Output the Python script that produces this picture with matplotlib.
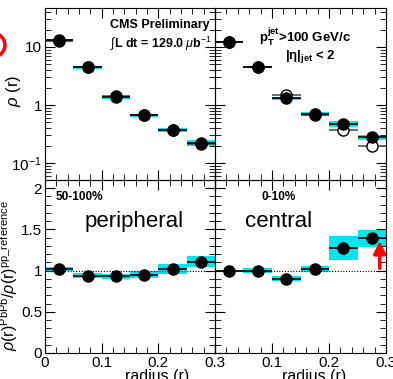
import numpy as np
import matplotlib.pyplot as plt
from matplotlib.patches import Rectangle, Ellipse

plt.rcParams["font.family"] = ["Liberation Sans", "DejaVu Sans"]
plt.rcParams["mathtext.fontset"] = "custom"
plt.rcParams["mathtext.rm"] = "Liberation Sans"
plt.rcParams["mathtext.it"] = "Liberation Sans:italic"
plt.rcParams["mathtext.bf"] = "Liberation Sans:bold"
plt.rcParams["font.size"] = 9

CYAN = "#00e5ee"

r_centers = [0.025, 0.075, 0.125, 0.175, 0.225, 0.275]
r_halfwidth = 0.025

# jet shapes rho(r)
rho_periph = [13.0, 4.5, 1.37, 0.67, 0.37, 0.22]
rho_periph_pp = [12.8, 4.6, 1.45, 0.66, 0.37, 0.21]
rho_periph_sys = [0.6, 0.25, 0.08, 0.04, 0.03, 0.025]
rho_central = [12.2, 4.5, 1.32, 0.70, 0.47, 0.28]
rho_central_pp = [12.3, 4.5, 1.49, 0.68, 0.37, 0.195]
rho_central_sys = [0.4, 0.2, 0.08, 0.05, 0.05, 0.03]

# ratios PbPb / pp
ratio_periph = [1.02, 0.94, 0.93, 0.95, 1.02, 1.11]
ratio_periph_sys = [0.02, 0.03, 0.03, 0.04, 0.06, 0.07]
ratio_central = [1.00, 1.00, 0.90, 1.02, 1.27, 1.39]
ratio_central_sys = [0.01, 0.03, 0.03, 0.04, 0.145, 0.10]

W, H = 393, 379
fig = plt.figure(figsize=(W / 100, H / 100), dpi=100)

x0, xm, x1 = 45 / W, 215 / W, 386 / W
yt, ym, yb = 1 - 8 / H, 1 - 180 / H, 1 - 353 / H
ax_tl = fig.add_axes([x0, ym, xm - x0, yt - ym])
ax_tr = fig.add_axes([xm, ym, x1 - xm, yt - ym])
ax_bl = fig.add_axes([x0, yb, xm - x0, ym - yb])
ax_br = fig.add_axes([xm, yb, x1 - xm, ym - yb])


def boxes(ax, y, sys):
    for xc, yc, s in zip(r_centers, y, sys):
        ax.add_patch(Rectangle((xc - r_halfwidth, yc - s), 2 * r_halfwidth, 2 * s,
                               facecolor=CYAN, edgecolor="none", zorder=1))


def points(ax, y, filled=True):
    if filled:
        ax.errorbar(r_centers, y, xerr=r_halfwidth, fmt="o", color="black",
                    ms=8, elinewidth=1.2, capsize=0, zorder=4)
    else:
        ax.errorbar(r_centers, y, xerr=r_halfwidth, fmt="o", color="#555555",
                    mfc="white", mec="black", ms=8, elinewidth=1.2, capsize=0,
                    zorder=3)


for ax, rho, pp, sys in [(ax_tl, rho_periph, rho_periph_pp, rho_periph_sys),
                         (ax_tr, rho_central, rho_central_pp, rho_central_sys)]:
    boxes(ax, rho, sys)
    points(ax, pp, filled=False)
    points(ax, rho)
    ax.set_yscale("log")
    ax.set_ylim(0.051, 47)

for ax, ratio, sys in [(ax_bl, ratio_periph, ratio_periph_sys),
                       (ax_br, ratio_central, ratio_central_sys)]:
    boxes(ax, ratio, sys)
    ax.axhline(1.0, color="black", ls=(0, (1, 1.5)), lw=0.8, zorder=2)
    points(ax, ratio)
    ax.set_ylim(0, 2.1)
    ax.set_yticks([0, 0.5, 1, 1.5, 2])
    ax.set_yticks(np.arange(0, 2.1, 0.1), minor=True)

for ax in [ax_tl, ax_tr, ax_bl, ax_br]:
    ax.set_facecolor("none")
    ax.set_xlim(0, 0.3)
    ax.set_xticks([0, 0.1, 0.2, 0.3])
    ax.set_xticks(np.arange(0, 0.301, 0.02), minor=True)
    ax.tick_params(which="both", direction="in", top=True, right=True,
                   labelsize=11, pad=2)
    ax.tick_params(which="major", length=7)
    ax.tick_params(which="minor", length=4)
    for sp in ax.spines.values():
        sp.set_linewidth(0.8)

for ax in [ax_tl, ax_tr]:
    ax.set_xticklabels([])
for ax in [ax_tr, ax_br]:
    ax.set_yticklabels([], minor=True)
    ax.set_yticklabels([])
ax_tl.set_yticks([0.1, 1, 10])
ax_tl.set_yticklabels(["$10^{-1}$", "1", "10"])
ax_tr.set_yticks([0.1, 1, 10])
ax_tr.set_yticklabels([])
ax_tr.tick_params(which="minor", labelleft=False)
ax_tl.set_yticklabels([], minor=True)

ax_bl.set_xticklabels(["0", "0.1", "0.2", "0.3"])
ax_br.set_xticklabels(["", "0.1", "0.2", "0.3"])
ax_bl.set_yticklabels(["0", "0.5", "1", "1.5", "2"])

ax_tl.set_ylabel(r"$\rho$ (r)", fontsize=12)
ax_tl.yaxis.set_label_coords(-0.13, 0.52)
ax_bl.set_ylabel(r"$\rho$(r)$^{\mathrm{PbPb}}$/$\rho$(r)$^{\mathrm{pp\_reference}}$",
                 fontsize=11.5)
ax_bl.yaxis.set_label_coords(-0.145, 0.45)
for ax in [ax_bl, ax_br]:
    ax.set_xlabel("radius (r)", fontsize=11.5)
ax_bl.xaxis.set_label_coords(0.66, -0.095)
ax_br.xaxis.set_label_coords(0.58, -0.095)

ax_tl.text(0.38, 0.90, "CMS Preliminary", transform=ax_tl.transAxes,
           fontsize=9, fontweight="bold", va="center")
ax_tl.text(0.38, 0.79, r"$\int$L dt = 129.0 $\mu$b$^{-1}$",
           transform=ax_tl.transAxes, fontsize=9, fontweight="bold",
           va="center")
ax_tr.text(0.26, 0.83, r"$\mathbf{p_T^{jet}}$>100 GeV/c",
           transform=ax_tr.transAxes, fontsize=9.5, fontweight="bold",
           va="center")
ax_tr.text(0.41, 0.72, r"$\mathbf{|\eta|_{jet}}$ < 2",
           transform=ax_tr.transAxes, fontsize=9.5, fontweight="bold",
           va="center")

ax_bl.text(0.06, 0.90, "50-100%", transform=ax_bl.transAxes,
           fontsize=8.5, fontweight="bold", va="center")
ax_bl.text(0.235, 0.76, "peripheral", transform=ax_bl.transAxes, fontsize=16,
           va="center")
ax_br.text(0.27, 0.90, "0-10%", transform=ax_br.transAxes,
           fontsize=8.5, fontweight="bold", va="center")
ax_br.text(0.175, 0.76, "central", transform=ax_br.transAxes, fontsize=16,
           va="center")

ax_br.annotate("", xy=(0.289, 1.36), xytext=(0.289, 1.03),
               arrowprops=dict(arrowstyle="-|>,head_width=0.4,head_length=0.8",
                               color="red", lw=2.5, shrinkA=0, shrinkB=0),
               zorder=6)

fig.patches.append(Ellipse((-10 / W, 1 - 45 / H), 30 / W, 26 / H,
                           transform=fig.transFigure, fill=False,
                           edgecolor="red", lw=2.5))

fig.savefig("out.png", dpi=100)
